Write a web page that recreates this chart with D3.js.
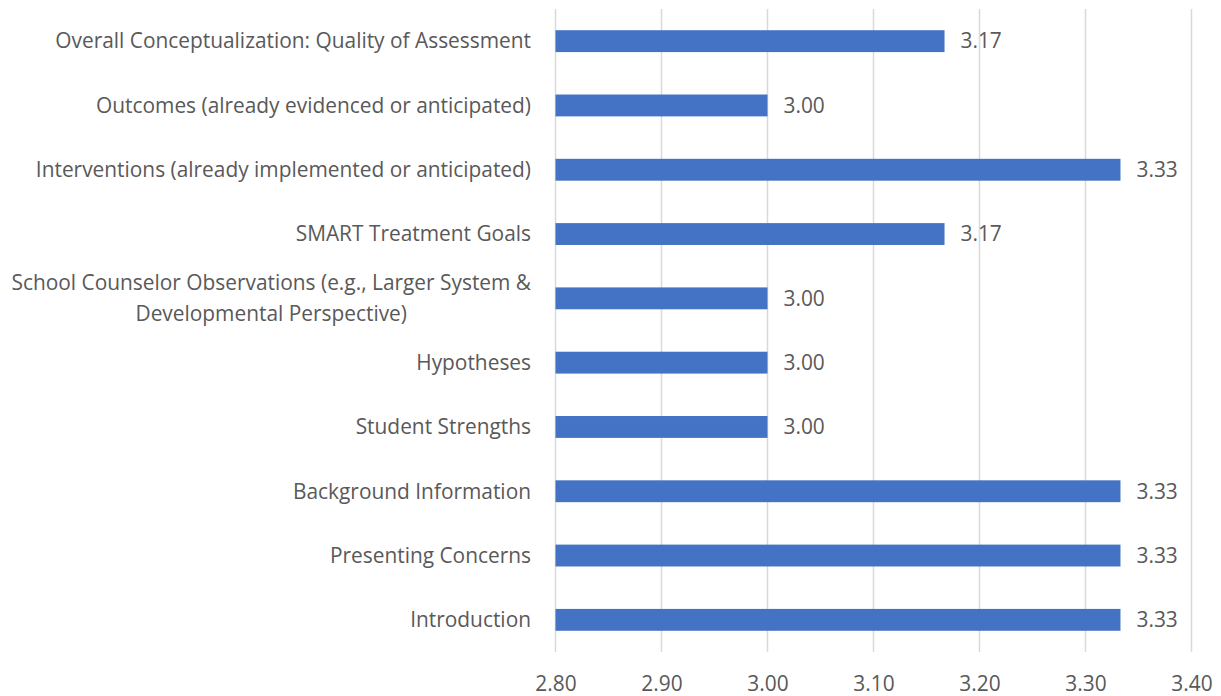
<!DOCTYPE html>
<html>
<head>
<meta charset="utf-8">
<script src="https://cdn.jsdelivr.net/npm/d3@7"></script>
<style>
  body { margin: 0; background: #fff; }
  svg { display: block; }
  text { font-family: "Open Sans", "Noto Sans", sans-serif; fill: #595959; }
</style>
</head>
<body>
<svg id="chart" width="1221" height="696"></svg>
<script>
// categories top to bottom, as shown
const categories = [
  "Overall Conceptualization: Quality of Assessment",
  "Outcomes (already evidenced or anticipated)",
  "Interventions (already implemented or anticipated)",
  "SMART Treatment Goals",
  "School Counselor Observations (e.g., Larger System & Developmental Perspective)",
  "Hypotheses",
  "Student Strengths",
  "Background Information",
  "Presenting Concerns",
  "Introduction"
];
const values = [3.167, 3.0, 3.333, 3.167, 3.0, 3.0, 3.0, 3.333, 3.333, 3.333];
const ticks = [2.8, 2.9, 3.0, 3.1, 3.2, 3.3, 3.4];

const width = 1221, height = 696;
const margin = {top: 9, right: 30, bottom: 44, left: 555.5};

const svg = d3.select("#chart");

const x = d3.scaleLinear()
    .domain([2.8, 3.4])
    .range([margin.left, margin.left + 636]);

const y = d3.scaleBand()
    .domain(categories)
    .range([margin.top, height - margin.bottom])
    .paddingInner(0.66)
    .paddingOuter(0.33);

// font size so the longest one-line label matches the picture
const probe = svg.append("text").attr("font-size", 20).text(categories[0]);
const fs = 20 * 476 / probe.node().getComputedTextLength();
probe.remove();

// gridlines
svg.append("g").attr("class", "grid")
    .selectAll("line")
    .data(ticks)
    .join("line")
    .attr("x1", d => x(d)).attr("x2", d => x(d))
    .attr("y1", margin.top).attr("y2", height - margin.bottom)
    .attr("stroke", "#d9d9d9")
    .attr("stroke-width", 1.5);

// bars
svg.append("g").attr("class", "bars")
    .selectAll("rect")
    .data(values)
    .join("rect")
    .attr("x", x(2.8))
    .attr("y", (d, i) => y(categories[i]))
    .attr("width", d => x(d) - x(2.8))
    .attr("height", y.bandwidth())
    .attr("fill", "#4472c4");

// value labels
svg.append("g").attr("class", "values")
    .selectAll("text")
    .data(values)
    .join("text")
    .attr("x", d => x(d) + 16)
    .attr("y", (d, i) => y(categories[i]) + y.bandwidth() / 2)
    .attr("dy", "0.35em")
    .attr("font-size", fs)
    .text(d => d3.format(".2f")(d));

// x axis labels
const xAxis = svg.append("g")
    .attr("transform", "translate(0," + (height - margin.bottom) + ")")
    .call(d3.axisBottom(x).tickValues(ticks).tickFormat(d3.format(".2f")).tickSize(0).tickPadding(24));
xAxis.select(".domain").remove();
xAxis.selectAll("text").attr("font-size", fs).attr("font-family", null).attr("fill", "#595959");

// category labels, wrapped
const catG = svg.append("g").attr("class", "cats");
categories.forEach((c, i) => {
  const t = catG.append("text")
      .attr("text-anchor", "middle")
      .attr("font-size", fs);
  const words = c.split(" ");
  let lines = [], line = [];
  words.forEach(w => {
    line.push(w);
    t.text(line.join(" "));
    if (t.node().getComputedTextLength() > 530 && line.length > 1) {
      line.pop();
      lines.push(line.join(" "));
      line = [w];
    }
  });
  lines.push(line.join(" "));
  t.text(null);
  const lh = fs * 1.5;
  const cy = y(c) + y.bandwidth() / 2 - (lines.length - 1) * lh / 2;
  // widest line decides the center so the right edge sits at 531
  const tmp = catG.append("text").attr("font-size", fs);
  const wMax = d3.max(lines, l => { tmp.text(l); return tmp.node().getComputedTextLength(); });
  tmp.remove();
  const cx = 531 - wMax / 2;
  lines.forEach((l, k) => {
    t.append("tspan")
      .attr("x", lines.length > 1 ? cx : 531)
      .attr("y", cy + k * lh)
      .attr("dy", "0.35em")
      .text(l);
  });
  if (lines.length === 1) t.attr("text-anchor", "end");
});
</script>
</body>
</html>
